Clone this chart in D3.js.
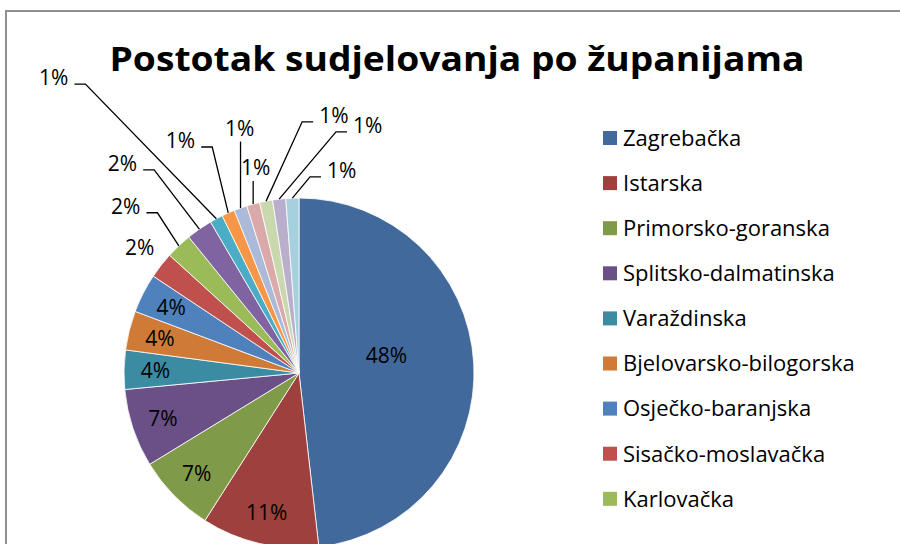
<!DOCTYPE html>
<html>
<head>
<meta charset="utf-8">
<script src="https://cdn.jsdelivr.net/npm/d3@7"></script>
<style>
  body { margin: 0; background: #fff; }
  svg { display: block; font-family: 'Open Sans', Lato, sans-serif; }
</style>
</head>
<body>
<div id="vis"></div>
<script>
// Counties in the legend (only the first nine fit in the chart area)
let counties = ['Zagrebačka', 'Istarska', 'Primorsko-goranska', 'Splitsko-dalmatinska',
  'Varaždinska', 'Bjelovarsko-bilogorska', 'Osječko-baranjska', 'Sisačko-moslavačka',
  'Karlovačka'];

// Participants per county, in slice order (clockwise from 12 o'clock)
let counts = [40, 9, 6, 6, 3, 3, 3, 2, 2, 2, 1, 1, 1, 1, 1, 1, 1];

let colors = ['#41699c', '#9e413e', '#7f9a48', '#6a5087', '#3b8ca3', '#cf7b37',
  '#4f81bd', '#c0504d', '#9bbb59', '#8064a2', '#4bacc6', '#f79646',
  '#aabad8', '#d9aaa9', '#c9d8af', '#b9aecb', '#a6d0de'];

let title = 'Postotak sudjelovanja po županijama';

// Set up dimensions
let width = 900,
    height = 544;

let cx = 299,
    cy = 373,
    radius = 175;

let svg = d3.select('#vis')
            .append('svg')
            .attr('width', width)
            .attr('height', height);

// Chart frame (only the top and left edges are in view)
svg.append('rect')
    .attr('x', 6)
    .attr('y', 11)
    .attr('width', 1000)
    .attr('height', 1000)
    .attr('fill', 'none')
    .attr('stroke', '#8f8f8f')
    .attr('stroke-width', 2);

// Title, stretched to the width it has in the original
svg.append('text')
    .attr('x', 457)
    .attr('y', 71)
    .attr('textLength', 695)
    .attr('lengthAdjust', 'spacingAndGlyphs')
    .text(title)
    .style('text-anchor', 'middle')
    .style('font-weight', 'bold')
    .style('font-size', '34px');

// Pie, clockwise from 12 o'clock like Excel
let total = d3.sum(counts);
let slices = d3.pie().sort(null).value(d => d)(counts);
let arc = d3.arc().innerRadius(0).outerRadius(radius);
let pct = d3.format('.0%');

let g = svg.append('g')
    .attr('transform', `translate(${cx},${cy})`);

g.selectAll('path')
    .data(slices)
    .enter()
    .append('path')
    .attr('d', arc)
    .attr('fill', (d, i) => colors[i])
    .attr('stroke', '#fff')
    .attr('stroke-width', 0.8);

// Where the labels sit: [angle in degrees clockwise from 12 o'clock, distance / radius]
// null = middle of the slice at 0.82 r
let labelSpots = [[78.5, 0.51], null, null, null, null, null, null,
  [308.3, 1.16], [313.9, 1.374], [319.9, 1.566], [320.3, 2.194], [333.0, 1.491],
  [346.4, 1.44], [348.1, 1.2], [7.7, 1.486], [15.5, 1.469], [11.9, 1.183]];

function polar(angleDeg, dist) {
  let a = angleDeg * Math.PI / 180;
  return [Math.sin(a) * dist, -Math.cos(a) * dist];
}

let capH = 15;

slices.forEach(function(d, i) {
  let mid = (d.startAngle + d.endAngle) / 2 * 180 / Math.PI;
  let spot = labelSpots[i] || [mid, 0.82];
  let [lx, ly] = polar(spot[0], spot[1] * radius);

  let label = g.append('text')
      .attr('x', lx)
      .attr('y', ly + capH / 2)
      .text(pct(d.value / total))
      .style('text-anchor', 'middle')
      .style('font-size', '21px')
      .style('fill', '#000');

  // leader lines for the small outside slices (the first outside one sits close enough)
  if (i < 8) return;
  let w = label.node().getComputedTextLength();
  let [ax, ay] = polar(mid, radius);
  let pts;
  if (Math.abs(ax - lx) < w / 2) {
    pts = [[ax, ly + capH / 2 + 6], [ax, ay]];
  } else if (ax > lx) {
    pts = [[lx + w / 2 + 6, ly + capH / 2 - 1], [lx + w / 2 + 17, ly + capH / 2 - 1], [ax, ay]];
  } else {
    pts = [[lx - w / 2 - 6, ly + capH / 2 - 1], [lx - w / 2 - 17, ly + capH / 2 - 1], [ax, ay]];
  }
  g.append('path')
      .attr('d', d3.line()(pts))
      .attr('fill', 'none')
      .attr('stroke', '#000')
      .attr('stroke-width', 1.3);
});

// Legend
let legend = svg.append('g')
    .attr('transform', 'translate(603, 138)');

let rows = legend.selectAll('g')
    .data(counties)
    .enter()
    .append('g')
    .attr('transform', (d, i) => `translate(0, ${i * 45.1})`);

rows.append('rect')
    .attr('x', 0)
    .attr('y', -7)
    .attr('width', 14)
    .attr('height', 14)
    .attr('fill', (d, i) => colors[i]);

rows.append('text')
    .attr('x', 20)
    .attr('y', 7.8)
    .text(d => d)
    .style('font-size', '22px')
    .style('fill', '#000');
</script>
</body>
</html>
